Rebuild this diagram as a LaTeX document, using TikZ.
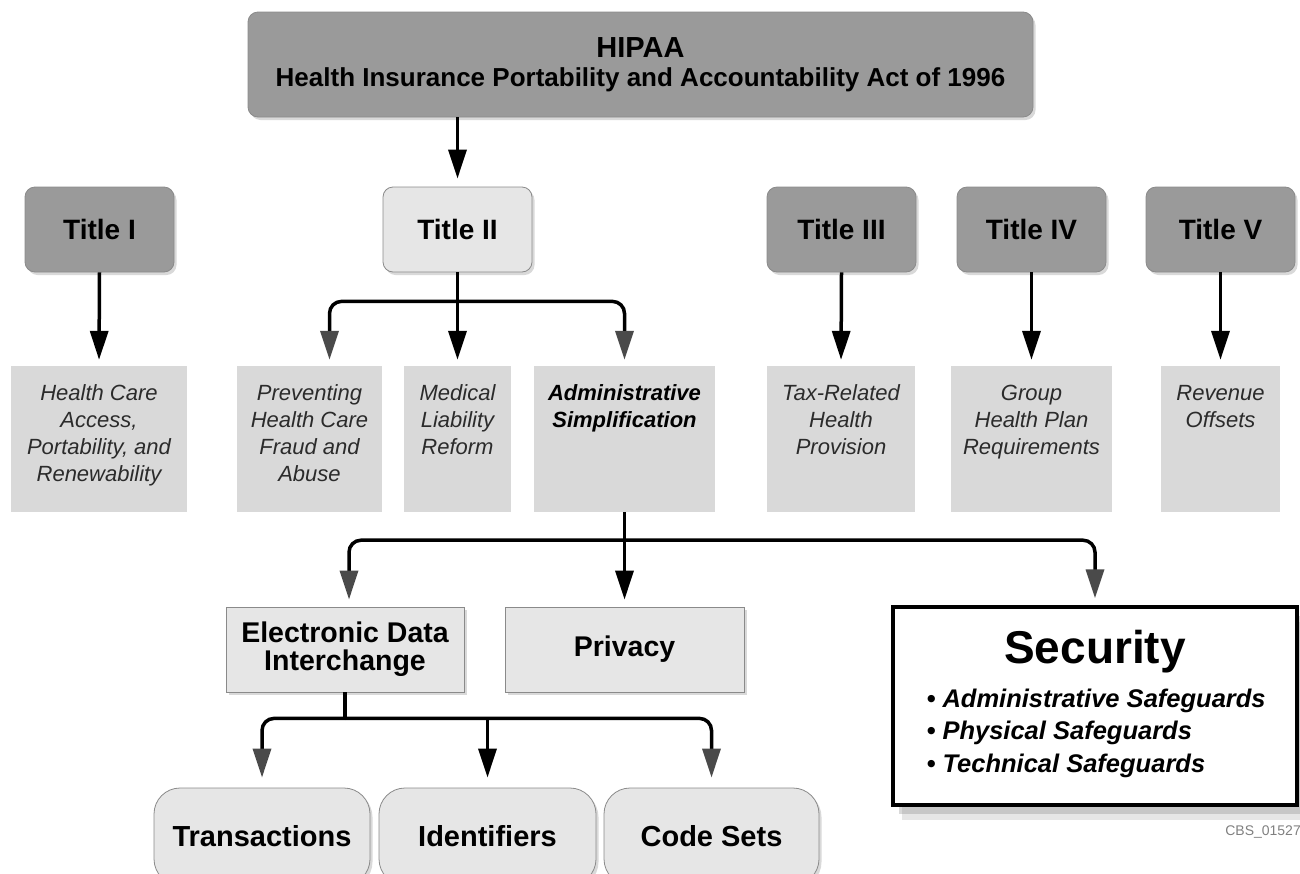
\documentclass[tikz,border=0pt]{standalone}
\usepackage{fontspec}
\setmainfont{Liberation Sans}
\usepackage{tikz}
\usetikzlibrary{calc,positioning,arrows.meta,shadows}

\definecolor{boxgray}{HTML}{9A9A9A}
\definecolor{palegray}{HTML}{E6E6E6}
\definecolor{descgray}{HTML}{D9D9D9}
\definecolor{rimgray}{HTML}{8A8A8A}
\definecolor{tipgray}{HTML}{4A4A4A}
\definecolor{inkgray}{HTML}{2B2B2B}

\tikzset{
  shade box/.style={drop shadow={shadow xshift=2.5pt,shadow yshift=-3pt,opacity=.3}},
  act/.style={shade box,draw=rimgray,fill=boxgray,rounded corners=10pt,line width=.8pt,
    minimum width=785pt,minimum height=105pt,align=center,font=\bfseries\fontsize{26}{26}\selectfont},
  titlebox/.style={shade box,draw=rimgray,fill=boxgray,rounded corners=10pt,line width=.8pt,
    minimum width=149pt,minimum height=85pt,font=\bfseries\fontsize{28}{30}\selectfont},
  descbox/.style={fill=descgray,minimum height=146pt,inner sep=0pt},
  desctext/.style={align=center,inner sep=0pt,text=inkgray,font=\itshape\fontsize{22}{27}\selectfont},
  partbox/.style={shade box,draw=rimgray,fill=palegray,line width=.8pt,minimum height=85pt,
    align=center,font=\bfseries\fontsize{28.5}{28}\selectfont},
  setbox/.style={shade box,draw=rimgray,fill=palegray,line width=.8pt,rounded corners=26pt,
    minimum height=97pt,font=\bfseries\fontsize{29}{30}\selectfont},
  link/.style={line width=3.5pt,shorten >=6pt,-{Triangle[width=18pt,length=29pt]}},
  sidelink/.style={link,rounded corners=12pt,-{Triangle[width=18pt,length=29pt,color=tipgray]}},
}

\begin{document}
\begin{tikzpicture}[x=1pt,y=1pt]
\useasboundingbox (0,0) rectangle (1300,-873);
\clip (0,0) rectangle (1300,-873);

% the act itself
\node[act] (hipaa) at (640.5,-64.5) {{\fontsize{29}{26}\selectfont HIPAA}\\[3pt]Health Insurance Portability and Accountability Act of 1996};

% titles
\node[titlebox] (t1) at (99.5,-229.5) {Title I};
\node[titlebox,fill=palegray] (t2) at (457.5,-229.5) {Title II};
\node[titlebox] (t3) at (841.5,-229.5) {Title III};
\node[titlebox] (t4) at (1031.5,-229.5) {Title IV};
\node[titlebox] (t5) at (1220.5,-229.5) {Title V};

% what each title covers
\node[descbox,minimum width=176pt] (hca) at (99,-439) {};
\node[desctext,below=19pt of hca.north] (hcatext) {Health Care\\Access,\\Portability, and\\Renewability};
\node[descbox,minimum width=145pt] (prev) at (309.5,-439) {};
\node[desctext,below=19pt of prev.north] (prevtext) {Preventing\\Health Care\\Fraud and\\Abuse};
\node[descbox,minimum width=107pt] (med) at (457.5,-439) {};
\node[desctext,below=19pt of med.north] (medtext) {Medical\\Liability\\Reform};
\node[descbox,minimum width=181pt] (adm) at (624.5,-439) {};
\node[desctext,font=\bfseries\itshape\fontsize{22}{27}\selectfont,text=black,below=19pt of adm.north] (admtext) {Administrative\\Simplification};
\node[descbox,minimum width=148pt] (tax) at (841,-439) {};
\node[desctext,below=19pt of tax.north] (taxtext) {Tax-Related\\Health\\Provision};
\node[descbox,minimum width=161pt] (grp) at (1031.5,-439) {};
\node[desctext,below=19pt of grp.north] (grptext) {Group\\Health Plan\\Requirements};
\node[descbox,minimum width=119pt] (rev) at (1220.5,-439) {};
\node[desctext,below=19pt of rev.north] (revtext) {Revenue\\Offsets};

% administrative simplification parts
\node[partbox,minimum width=238pt] (edi) at (345,-649.5) {Electronic Data\\Interchange};
\node[partbox,minimum width=239pt] (priv) at (624.5,-649.5) {Privacy};
\node[draw=black,line width=3.5pt,fill=white,minimum width=404pt,minimum height=198pt,
  drop shadow={shadow xshift=9pt,shadow yshift=-15pt,opacity=.2},
  drop shadow={shadow xshift=6pt,shadow yshift=-9pt,opacity=.3}] (sec) at (1095,-706) {};
\node[font=\bfseries\fontsize{46}{46}\selectfont] (sectitle) at (1095,-652) {Security};
\node[anchor=west,align=left,font=\bfseries\itshape\fontsize{25.5}{32.5}\selectfont] (seclist) at (923,-733)
  {• Administrative Safeguards\\• Physical Safeguards\\• Technical Safeguards};

% EDI standards
\node[setbox,minimum width=216pt] (trans) at (262,-836.5) {Transactions};
\node[setbox,minimum width=217pt] (ident) at (487.5,-836.5) {Identifiers};
\node[setbox,minimum width=215pt] (codes) at (711.5,-836.5) {Code Sets};

\node[anchor=east,inner sep=0pt,text=gray,font=\fontsize{14}{14}\selectfont] (code) at (1301,-832) {CBS\_01527};

% arrows
\draw[link,shorten >=8pt] (t2.north |- hipaa.south) -- (t2.north);
\draw[link] (t1.south) -- (hca.north);
\draw[link] (t3.south) -- (tax.north);
\draw[link] (t4.south) -- (grp.north);
\draw[link] (t5.south) -- (rev.north);

\coordinate (t2knot) at ($(t2.south)+(0,-29)$);
\draw[link] (t2.south) -- (med.north);
\draw[sidelink] (t2knot) -| ([xshift=20pt]prev.north);
\draw[sidelink] (t2knot) -| (adm.north);

\coordinate (admknot) at ($(adm.south)+(0,-28)$);
\draw[link,shorten >=7pt] (adm.south) -- (priv.north);
\draw[sidelink,shorten >=7pt] (admknot) -| ([xshift=4pt]edi.north);
\draw[sidelink,shorten >=7pt] (admknot) -| (sec.north);

\coordinate (ediknot) at ($(edi.south)+(0,-26)$);
\draw[line width=3.5pt] (edi.south) -- (ediknot);
\draw[sidelink,shorten >=10pt] (ediknot) -| (trans.north);
\draw[sidelink,shorten >=10pt] (ediknot) -| (codes.north);
\draw[link,shorten >=10pt] (ediknot -| ident.north) -- (ident.north);
\end{tikzpicture}
\end{document}
